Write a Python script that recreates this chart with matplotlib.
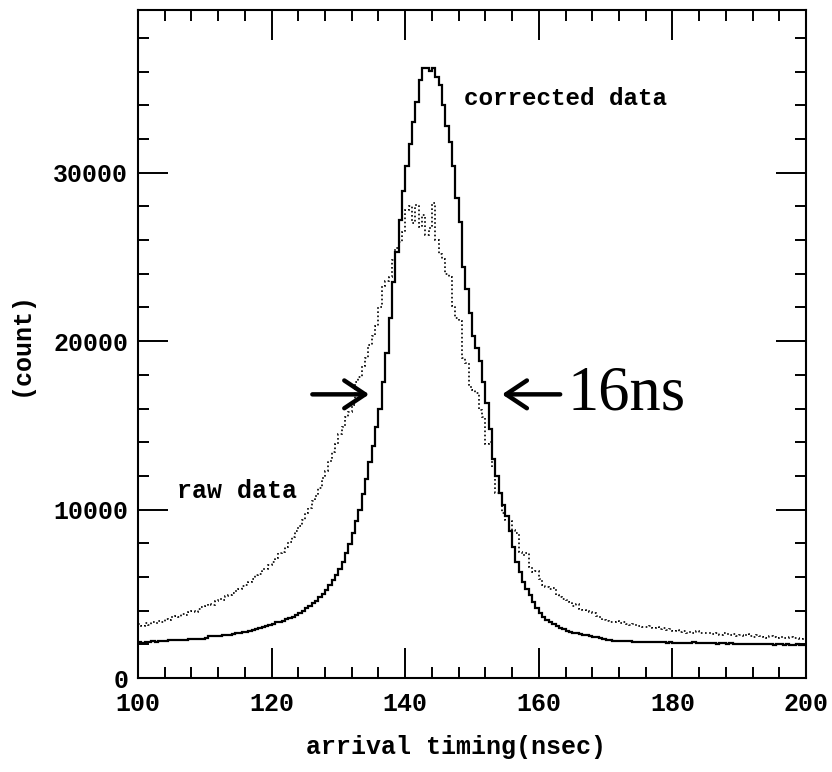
import numpy as np
import matplotlib
matplotlib.use("Agg")
import matplotlib.pyplot as plt
from matplotlib.ticker import MultipleLocator

# ---- data (0.5 ns bins from 100 to 200 ns) ----
bin_start = 100.0
bin_width = 0.5

corrected = [
    2130, 2100, 2150, 2140, 2180, 2150, 2170, 2200, 2190, 2250,
    2240, 2260, 2250, 2280, 2270, 2300, 2290, 2310, 2330, 2320,
    2350, 2480, 2470, 2500, 2520, 2540, 2560, 2580, 2620, 2650,
    2700, 2740, 2760, 2800, 2840, 2880, 2950, 3000, 3080, 3150,
    3220, 3300, 3340, 3400, 3480, 3560, 3650, 3750, 3880, 4000,
    4150, 4300, 4450, 4600, 4800, 5000, 5250, 5500, 5800, 6100,
    6450, 6900, 7400, 7950, 8600, 9300, 10000, 10900, 11800, 12800,
    13800, 14900, 16000, 17600, 19300, 21400, 23500, 25300, 27200, 28900,
    30400, 31700, 33000, 34200, 35500, 36200, 36200, 36050, 36200, 35700,
    35200, 34000, 32800, 31800, 30400, 28500, 27100, 24400, 23100, 21700,
    20300, 19600, 18800, 17600, 16300, 14800, 13000, 12000, 11000, 10300,
    9600, 8700, 7800, 6900, 6300, 5700, 5300, 4900, 4500, 4150,
    3850, 3650, 3450, 3300, 3180, 3080, 2950, 2880, 2800, 2750,
    2700, 2650, 2620, 2580, 2540, 2500, 2440, 2410, 2350, 2300,
    2260, 2240, 2220, 2200, 2210, 2180, 2200, 2170, 2160, 2150,
    2150, 2130, 2140, 2120, 2130, 2150, 2110, 2120, 2100, 2110,
    2100, 2090, 2100, 2080, 2090, 2070, 2120, 2080, 2060, 2070,
    2060, 2050, 2080, 2040, 2050, 2060, 2030, 2050, 2040, 2020,
    2030, 2000, 2020, 2030, 2010, 1990, 2000, 2020, 1990, 2000,
    1980, 2000, 1990, 1960, 2000, 1970, 1980, 2010, 1960, 1970,
]

raw = [
    3200, 3100, 3250, 3150, 3300, 3250, 3400, 3350, 3500, 3450,
    3600, 3700, 3650, 3800, 3750, 3900, 3950, 3900, 4100, 4200,
    4300, 4400, 4350, 4550, 4700, 4650, 4850, 4900, 5050, 5150,
    5300, 5450, 5550, 5700, 5900, 6100, 6200, 6450, 6500, 6700,
    6900, 7100, 7400, 7500, 7800, 8100, 8400, 8700, 9000, 9400,
    9800, 10100, 10500, 10800, 11300, 11900, 12300, 12900, 13400, 13900,
    14500, 14900, 15500, 15800, 16200, 17600, 17900, 18500, 19000, 19800,
    20300, 20900, 22000, 23300, 23600, 23800, 24800, 25500, 25900, 26500,
    27800, 28000, 27000, 28100, 26800, 27500, 26300, 26700, 28200, 26000,
    25200, 24900, 24000, 23800, 22100, 21400, 21200, 19000, 18700, 17300,
    17100, 16900, 15900, 15500, 13900, 14000, 12500, 11000, 10900, 9800,
    9400, 9300, 8800, 8600, 7500, 7300, 7400, 6600, 6300, 6350,
    5900, 5500, 5400, 5300, 5350, 4900, 4800, 4700, 4650, 4500,
    4300, 4400, 4100, 4050, 4000, 3900, 3850, 3700, 3600, 3450,
    3400, 3350, 3300, 3400, 3250, 3300, 3200, 3150, 3200, 3100,
    3100, 3050, 3000, 3100, 2950, 3000, 2900, 2950, 2850, 2900,
    2800, 2850, 2750, 2800, 2700, 2750, 2700, 2800, 2650, 2700,
    2650, 2700, 2600, 2650, 2550, 2650, 2600, 2550, 2600, 2500,
    2550, 2500, 2600, 2500, 2450, 2550, 2500, 2450, 2400, 2500,
    2450, 2400, 2450, 2350, 2400, 2450, 2350, 2400, 2300, 2350,
]

x_ticks = [100, 120, 140, 160, 180, 200]
y_ticks = [0, 10000, 20000, 30000]

edges = bin_start + bin_width * np.arange(len(corrected) + 1)

plt.rcParams['font.family'] = ['Liberation Mono', 'DejaVu Sans']
plt.rcParams['font.weight'] = 'bold'

fig = plt.figure(figsize=(8.32, 7.72), dpi=100)
ax = fig.add_axes([138 / 832, 94 / 772, 668 / 832, 668 / 772])

ax.stairs(raw, edges, baseline=None, color='black', lw=1.2,
          linestyle=(0, (1, 1.5)))
ax.stairs(corrected, edges, baseline=None, color='black', lw=1.6)

ax.set_xlim(100, 200)
ax.set_ylim(0, 39660)
ax.set_xticks(x_ticks)
ax.set_yticks(y_ticks)
ax.xaxis.set_minor_locator(MultipleLocator(4))
ax.yaxis.set_minor_locator(MultipleLocator(2000))
ax.tick_params(which='both', direction='in', top=True, right=True,
               width=1.4, labelsize=18, colors='black')
ax.tick_params(which='major', length=21.6)
ax.tick_params(which='minor', length=7.9)
ax.tick_params(axis='y', pad=7)
ax.tick_params(axis='x', pad=10)
for s in ax.spines.values():
    s.set_linewidth(1.5)

ax.set_xlabel('arrival timing(nsec)', fontsize=18, fontweight='bold')
ax.xaxis.set_label_coords(0.476, -0.085)
ax.set_ylabel('(count)', fontsize=18, fontweight='bold')
ax.yaxis.set_label_coords(-0.157, 0.5)

ax.text(148.8, 34400, 'corrected data', fontsize=17.5, ha='left', va='center')
ax.text(105.8, 11100, 'raw data', fontsize=18, ha='left', va='center')

arrow_kw = dict(arrowstyle='->,head_length=0.75,head_width=0.5',
                lw=3.2, color='black', mutation_scale=20, shrinkA=0, shrinkB=0)
ax.annotate('', xy=(134.6, 16840), xytext=(126.1, 16840), arrowprops=arrow_kw)
ax.annotate('', xy=(154.5, 16840), xytext=(163.2, 16840), arrowprops=arrow_kw)
ax.text(164.3, 16840, '16ns', fontsize=45, ha='left', va='center',
        family='Liberation Serif', fontweight='normal')

fig.savefig('out.png', dpi=100)
